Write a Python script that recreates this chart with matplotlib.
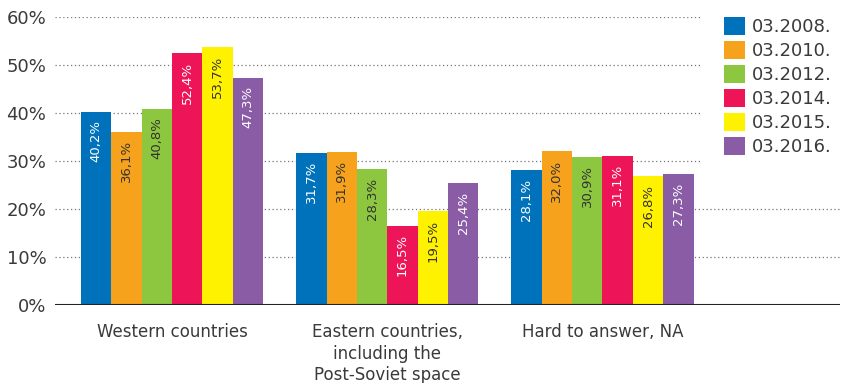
import numpy as np
import matplotlib.pyplot as plt
from matplotlib.patches import Patch, Rectangle

categories = ["Western countries",
              "Eastern countries,\nincluding the\nPost-Soviet space",
              "Hard to answer, NA"]
series = ["03.2008.", "03.2010.", "03.2012.", "03.2014.", "03.2015.", "03.2016."]
values = [
    [40.2, 31.7, 28.1],
    [36.1, 31.9, 32.0],
    [40.8, 28.3, 30.9],
    [52.4, 16.5, 31.1],
    [53.7, 19.5, 26.8],
    [47.3, 25.4, 27.3],
]
colors = ["#0071bb", "#f7a21c", "#8dc63f", "#ed1458", "#fff200", "#8b5ca6"]
label_colors = ["white", "#333333", "#333333", "white", "#333333", "white"]
yticks = [0, 10, 20, 30, 40, 50, 60]

plt.rcParams['font.family'] = ['DejaVu Sans']

fig = plt.figure(figsize=(8.42, 3.83), dpi=100)
ax = fig.add_axes([0.065, 0.2037, 0.933, 0.752])

x = np.arange(len(categories))
w = 0.141
for i, (name, vals) in enumerate(zip(series, values)):
    pos = x + (i - 2.5) * w
    bars = ax.bar(pos, vals, width=w, color=colors[i], label=name, zorder=2)
    for b, v in zip(bars, vals):
        ax.annotate(f"{v:.1f}%".replace(".", ","),
                    (b.get_x() + b.get_width() / 2, v),
                    xytext=(0, -6), textcoords="offset points",
                    rotation=90, ha="center", va="top",
                    color=label_colors[i], fontsize=9.5, zorder=3)

ax.set_xlim(-0.545, 3.105)
ax.set_ylim(0, 60)
ax.set_yticks(yticks)
ax.set_yticklabels([f"{t}%" for t in yticks], fontsize=13, color="#3a3a3a")
ax.set_xticks(x)
ax.set_xticklabels(categories, fontsize=12, color="#3a3a3a", linespacing=1.25)
ax.tick_params(length=0, pad=6)
ax.tick_params(axis="x", pad=13)

for t in yticks[1:]:
    ax.axhline(t, color="#777777", linestyle=(0, (1, 2.1)), linewidth=0.9, zorder=1)
ax.axhline(0, color="#222222", linewidth=1.5, zorder=3)

for s in ax.spines.values():
    s.set_visible(False)

# white area behind the legend hides the grid there
ax.add_patch(Rectangle((0.8337, 0.556), 0.17, 0.45, transform=fig.transFigure,
                       facecolor="white", edgecolor="none", zorder=1.5,
                       clip_on=False))

handles = [Patch(facecolor=c, label=n) for c, n in zip(colors, series)]
fig.legend(handles=handles, loc="upper left", bbox_to_anchor=(0.86, 0.955),
           frameon=False, fontsize=13, handlelength=1.16, handleheight=1.16,
           handletextpad=0.38, labelspacing=0.27, borderaxespad=0,
           borderpad=0, labelcolor="#3a3a3a")

fig.savefig("out.png", dpi=100)
